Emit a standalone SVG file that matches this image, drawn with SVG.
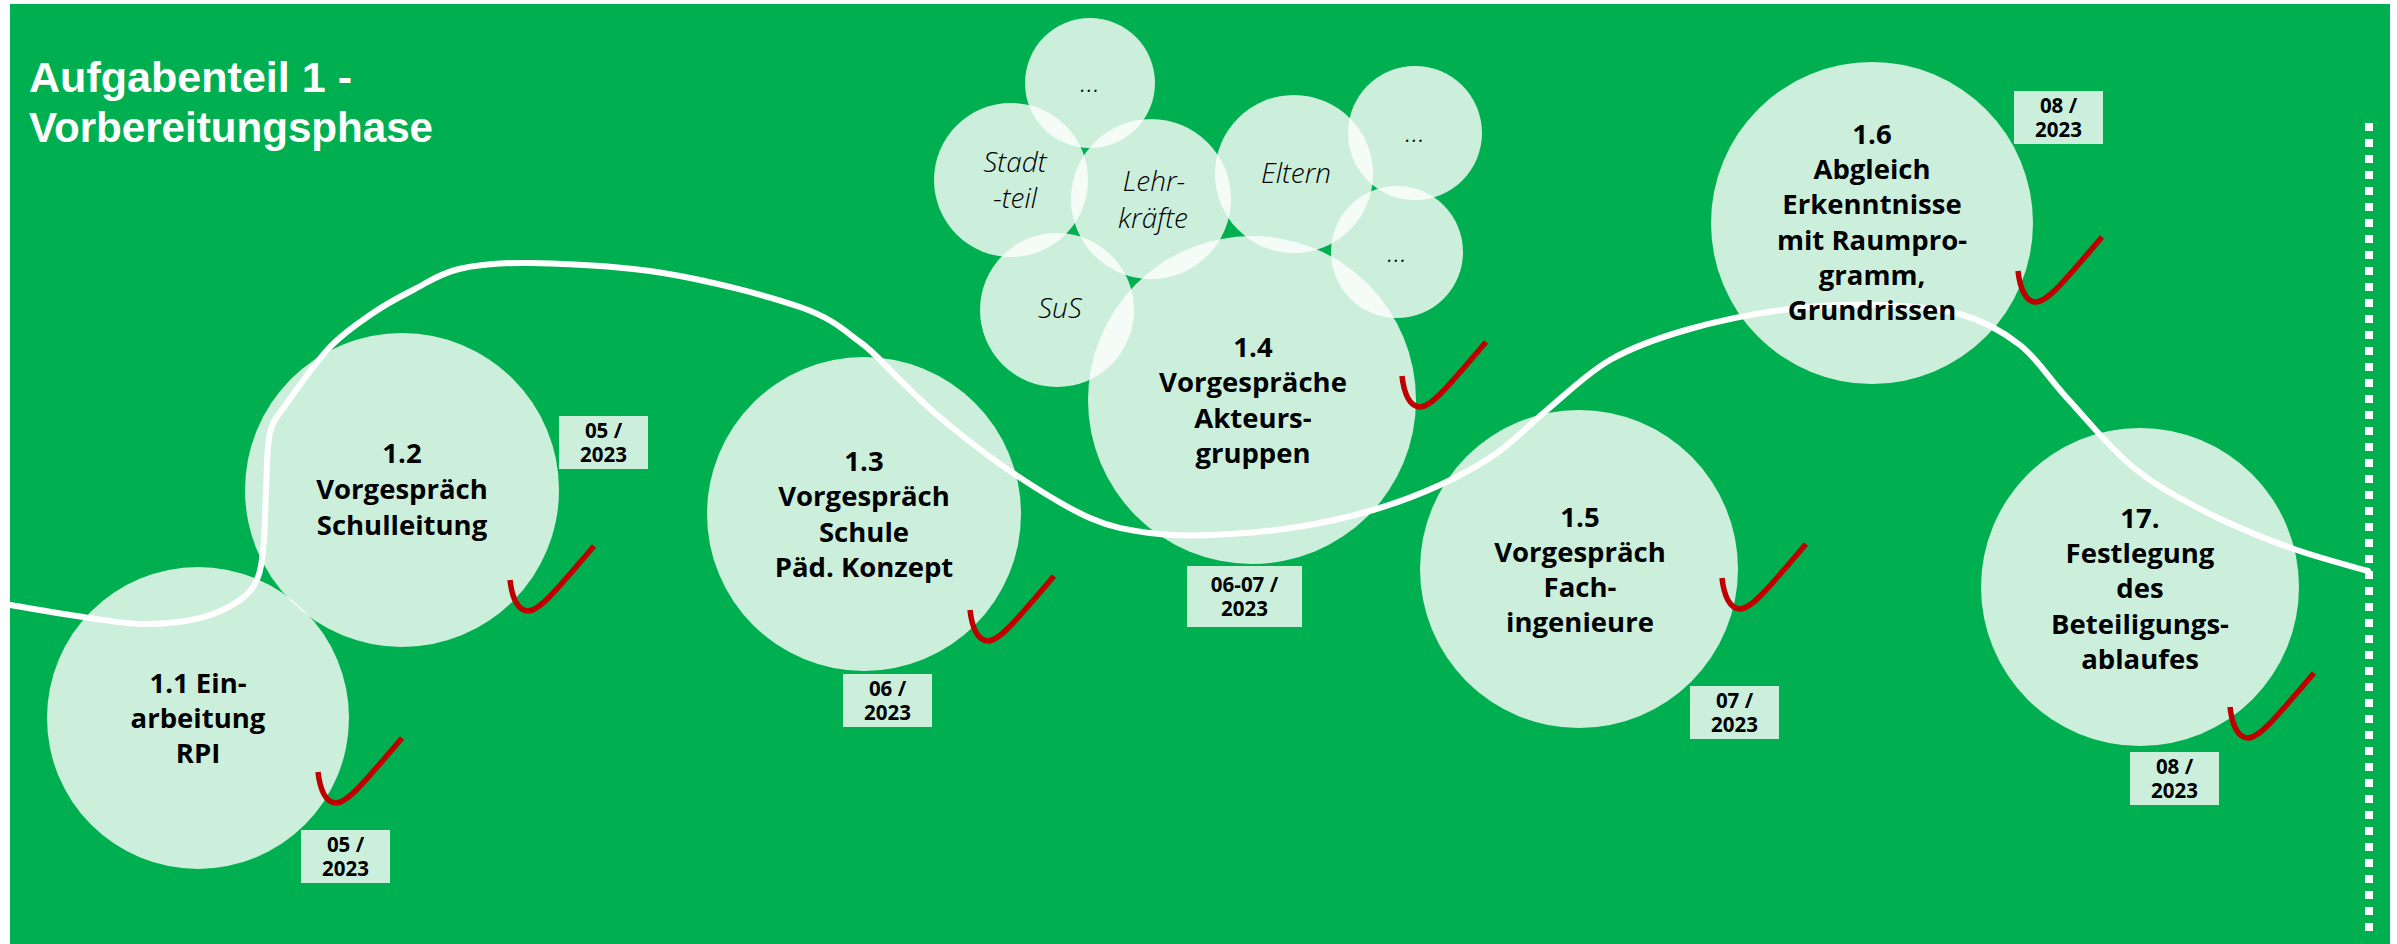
<svg xmlns="http://www.w3.org/2000/svg" xmlns:xlink="http://www.w3.org/1999/xlink" width="2397" height="944" viewBox="0 0 2397 944">
<style>
.bg{fill:#00B050}
.c{fill:#ffffff;fill-opacity:0.8}
.t{font-family:"Open Sans","Liberation Sans",sans-serif;font-weight:700;font-size:27.5px;fill:#000;text-anchor:middle}
.d{font-family:"Open Sans","Liberation Sans",sans-serif;font-weight:700;font-size:20.5px;fill:#000;text-anchor:middle}
.s{font-family:"Open Sans","Liberation Sans",sans-serif;font-weight:300;font-style:italic;font-size:28px;fill:#000;text-anchor:middle}
.box{fill:#CCEFDC}
.chk{fill:none;stroke:#C00000;stroke-width:5.5}
.curve{fill:none;stroke:#ffffff;stroke-width:6;stroke-linecap:round}
.dots{fill:none;stroke:#ffffff;stroke-width:8;stroke-dasharray:8 8}
.title{font-family:"Liberation Sans","Open Sans",sans-serif;font-weight:700;font-size:42px;fill:#ffffff}
</style>
<defs>
<path id="check" d="M0,0 C2,18 8,31 18,31 C28,31 40,18 84,-34"/>
</defs>
<rect class="bg" x="10" y="4" width="2380" height="940"/>
<g id="title">
<text class="title" x="29" y="92" textLength="323" lengthAdjust="spacingAndGlyphs">Aufgabenteil 1 -</text>
<text class="title" x="29" y="142" textLength="404" lengthAdjust="spacingAndGlyphs">Vorbereitungsphase</text>
</g>
<g id="connectors">
<path class="curve" d="M10,605 C22.2,607 60.8,613.8 83,617 C105.2,620.2 123.5,623.8 143,624 C162.5,624.2 183.8,622 200,618 C216.2,614 230.3,606.8 240,600 C249.7,593.2 254,587 258,577 C262,567 262.7,554.5 264,540 C265.3,525.5 265,507.8 266,490 C267,472.2 266.5,447.5 270,433 C273.5,418.5 277,417.3 287,403 C297,388.7 315.7,362 330,347 C344.3,332 359.2,322.5 373,313 C386.8,303.5 398.7,297.3 413,290 C427.3,282.7 439.3,273.5 459,269 C478.7,264.5 497,262.3 531,263 C565,263.7 618.2,265.7 663,273 C707.8,280.3 767.2,295.5 800,307 C832.8,318.5 843.3,329.8 860,342 C876.7,354.2 886.2,367 900,380 C913.8,393 924.2,404.5 943,420 C961.8,435.5 988.5,456.7 1013,473 C1037.5,489.3 1067.2,508 1090,518 C1112.8,528 1129.5,530.2 1150,533 C1170.5,535.8 1188.5,536 1213,535 C1237.5,534 1270.3,531.2 1297,527 C1323.7,522.8 1349.2,517 1373,510 C1396.8,503 1419.3,494.5 1440,485 C1460.7,475.5 1479.2,465.5 1497,453 C1514.8,440.5 1528.2,425.5 1547,410 C1565.8,394.5 1586.8,373.3 1610,360 C1633.2,346.7 1657.3,338.3 1686,330 C1714.7,321.7 1750.2,314.2 1782,310 C1813.8,305.8 1847.3,304.3 1877,305 C1906.7,305.7 1936.2,307.3 1960,314 C1983.8,320.7 2002.2,331 2020,345 C2037.8,359 2048,377.5 2067,398 C2086,418.5 2110.2,448.7 2134,468 C2157.8,487.3 2183.8,500.7 2210,514 C2236.2,527.3 2264.7,538.5 2291,548 C2317.3,557.5 2355.2,567.2 2368,571"/>
</g>
<g id="separator">
<line class="dots" x1="2369" y1="123" x2="2369" y2="937"/>
</g>
<g id="group-more-top">
<circle class="c" cx="1090" cy="83" r="65"/>
<text class="s" x="1090" y="92">…</text>
</g>
<g id="group-stadtteil">
<circle class="c" cx="1011" cy="180" r="77"/>
<text class="s" x="1015" y="172">Stadt</text>
<text class="s" x="1015" y="208">-teil</text>
</g>
<g id="group-lehrkraefte">
<circle class="c" cx="1151" cy="199" r="80"/>
<text class="s" x="1154" y="191">Lehr-</text>
<text class="s" x="1153" y="228">kräfte</text>
</g>
<g id="group-eltern">
<circle class="c" cx="1294" cy="174" r="79"/>
<text class="s" x="1296" y="183">Eltern</text>
</g>
<g id="group-more-right-top">
<circle class="c" cx="1415" cy="133" r="67"/>
<text class="s" x="1415" y="142">…</text>
</g>
<g id="group-more-right-bottom">
<circle class="c" cx="1397" cy="252" r="66"/>
<text class="s" x="1397" y="262">…</text>
</g>
<g id="group-sus">
<circle class="c" cx="1057" cy="310" r="77"/>
<text class="s" x="1060" y="318">SuS</text>
</g>
<g id="node-1-1">
<circle class="c" cx="198" cy="718" r="151"/>
<text class="t" x="198" y="693">1.1 Ein-</text>
<text class="t" x="198" y="728">arbeitung</text>
<text class="t" x="198" y="763">RPI</text>
<use xlink:href="#check" class="chk" x="318" y="772"/>
<rect class="box" x="301" y="830" width="89" height="53"/>
<text class="d" x="345.5" y="852">05 /</text>
<text class="d" x="345.5" y="876">2023</text>
</g>
<g id="node-1-2">
<circle class="c" cx="402" cy="490" r="157"/>
<text class="t" x="402" y="463">1.2</text>
<text class="t" x="402" y="499">Vorgespräch</text>
<text class="t" x="402" y="535">Schulleitung</text>
<use xlink:href="#check" class="chk" x="510" y="580"/>
<rect class="box" x="559" y="416" width="89" height="53"/>
<text class="d" x="603.5" y="438">05 /</text>
<text class="d" x="603.5" y="462">2023</text>
</g>
<g id="node-1-3">
<circle class="c" cx="864" cy="514" r="157"/>
<text class="t" x="864" y="471">1.3</text>
<text class="t" x="864" y="506">Vorgespräch</text>
<text class="t" x="864" y="542">Schule</text>
<text class="t" x="864" y="577">Päd. Konzept</text>
<use xlink:href="#check" class="chk" x="970" y="610"/>
<rect class="box" x="843" y="674" width="89" height="53"/>
<text class="d" x="887.5" y="696">06 /</text>
<text class="d" x="887.5" y="720">2023</text>
</g>
<g id="node-1-4">
<circle class="c" cx="1252" cy="400" r="164"/>
<text class="t" x="1253" y="357">1.4</text>
<text class="t" x="1253" y="392">Vorgespräche</text>
<text class="t" x="1253" y="428">Akteurs-</text>
<text class="t" x="1253" y="463">gruppen</text>
<use xlink:href="#check" class="chk" x="1402" y="376"/>
<rect class="box" x="1187" y="566" width="115" height="61"/>
<text class="d" x="1244.5" y="592">06-07 /</text>
<text class="d" x="1244.5" y="616">2023</text>
</g>
<g id="node-1-5">
<circle class="c" cx="1579" cy="569" r="159"/>
<text class="t" x="1580" y="527">1.5</text>
<text class="t" x="1580" y="562">Vorgespräch</text>
<text class="t" x="1580" y="597">Fach-</text>
<text class="t" x="1580" y="632">ingenieure</text>
<use xlink:href="#check" class="chk" x="1722" y="578"/>
<rect class="box" x="1690" y="686" width="89" height="53"/>
<text class="d" x="1734.5" y="708">07 /</text>
<text class="d" x="1734.5" y="732">2023</text>
</g>
<g id="node-1-6">
<circle class="c" cx="1872" cy="223" r="161"/>
<text class="t" x="1872" y="144">1.6</text>
<text class="t" x="1872" y="179">Abgleich</text>
<text class="t" x="1872" y="214">Erkenntnisse</text>
<text class="t" x="1872" y="250">mit Raumpro-</text>
<text class="t" x="1872" y="285">gramm,</text>
<text class="t" x="1872" y="320">Grundrissen</text>
<use xlink:href="#check" class="chk" x="2018" y="271"/>
<rect class="box" x="2014" y="91" width="89" height="53"/>
<text class="d" x="2058.5" y="113">08 /</text>
<text class="d" x="2058.5" y="137">2023</text>
</g>
<g id="node-17">
<circle class="c" cx="2140" cy="587" r="159"/>
<text class="t" x="2140" y="528">17.</text>
<text class="t" x="2140" y="563">Festlegung</text>
<text class="t" x="2140" y="598">des</text>
<text class="t" x="2140" y="634">Beteiligungs-</text>
<text class="t" x="2140" y="669">ablaufes</text>
<use xlink:href="#check" class="chk" x="2230" y="707"/>
<rect class="box" x="2130" y="752" width="89" height="53"/>
<text class="d" x="2174.5" y="774">08 /</text>
<text class="d" x="2174.5" y="798">2023</text>
</g>
</svg>
